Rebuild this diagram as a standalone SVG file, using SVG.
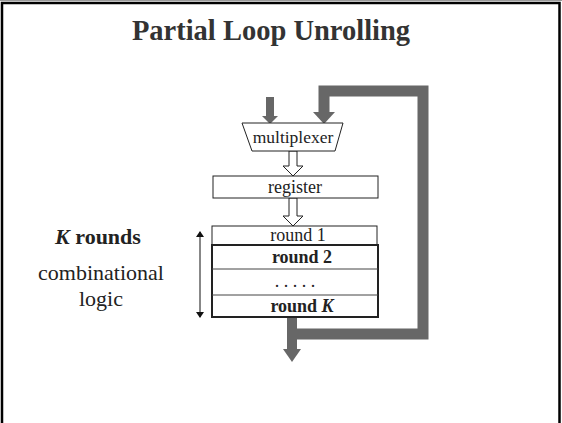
<svg xmlns="http://www.w3.org/2000/svg" width="562" height="423" viewBox="0 0 562 423">
  <defs>
    <style>
      text { font-family: "Liberation Serif", "Times New Roman", serif; fill: #222; text-anchor: middle; }
      .title { font-size: 28.5px; font-weight: bold; fill: #333; }
      .lbl { font-size: 18px; }
      .mux { font-size: 17.5px; }
      .side { font-size: 22px; }
      .b { font-weight: bold; }
      .box { fill: #fff; stroke: #222; stroke-width: 1; }
      .bold-box { fill: #fff; stroke: #222; stroke-width: 2; }
      .div { stroke: #444; stroke-width: 1; }
      .pipe { fill: none; stroke: #676767; stroke-linejoin: miter; }
      .head { fill: #676767; }
      .hollow { fill: #fff; stroke: #222; stroke-width: 1; }
    </style>
    <marker id="tip" viewBox="0 0 6 8" refX="5" refY="4" markerWidth="6" markerHeight="8" orient="auto-start-reverse" markerUnits="userSpaceOnUse">
      <path d="M0,0 L6,4 L0,8 z" fill="#111"/>
    </marker>
  </defs>

  <rect width="562" height="423" fill="#fff"/>
  <!-- slide frame -->
  <line x1="0" y1="0.5" x2="562" y2="0.5" stroke="#999" stroke-width="1"/>
  <path d="M2,423 V3 H559.5 V423" fill="none" stroke="#000" stroke-width="2.5"/>

  <text class="title" x="271" y="40">Partial Loop Unrolling</text>

  <g id="connectors">
    <!-- external input -->
    <line class="pipe" x1="270" y1="97" x2="270" y2="117" stroke-width="8"/>
    <polygon class="head" points="262,116 278,116 270,124"/>
    <!-- feedback loop -->
    <path class="pipe" d="M292,334 H423 V91 H324 V113" stroke-width="11"/>
    <polygon class="head" points="313,112 335,112 324,124"/>
    <!-- output -->
    <line class="pipe" x1="292" y1="317" x2="292" y2="350" stroke-width="10"/>
    <polygon class="head" points="283,349 301,349 292,362"/>
    <!-- multiplexer to register -->
    <polygon class="hollow" points="289,151 297,151 297,166 303,166 293,176 283,166 289,166"/>
    <!-- register to rounds -->
    <polygon class="hollow" points="289,198 297,198 297,216 303,216 293,226 283,216 289,216"/>
    <!-- extent of the K rounds -->
    <line x1="200" y1="232" x2="200" y2="317" stroke="#111" stroke-width="1" marker-start="url(#tip)" marker-end="url(#tip)"/>
  </g>

  <g id="multiplexer">
    <polygon class="box" points="242,123 343,123 335,151 252,151"/>
    <text class="mux" x="293" y="143">multiplexer</text>
  </g>

  <g id="register">
    <rect class="box" x="213" y="176" width="165" height="22"/>
    <text class="lbl" x="295" y="193">register</text>
  </g>

  <g id="round1">
    <rect class="box" x="212" y="226" width="165" height="19"/>
    <text class="lbl" x="298" y="241">round 1</text>
  </g>

  <g id="rounds">
    <rect class="bold-box" x="212" y="245" width="166" height="72"/>
    <line class="div" x1="212" y1="269" x2="378" y2="269"/>
    <line class="div" x1="212" y1="295" x2="378" y2="295"/>
    <text class="lbl b" x="302" y="263">round 2</text>
    <text class="lbl" x="295" y="287">. . . . .</text>
    <text class="lbl b" x="302" y="312">round <tspan font-style="italic">K</tspan></text>
  </g>

  <g id="side-label">
    <text class="side b" x="98" y="244"><tspan font-style="italic">K</tspan> rounds</text>
    <text class="side" x="101" y="280">combinational</text>
    <text class="side" x="101" y="306">logic</text>
  </g>
</svg>
